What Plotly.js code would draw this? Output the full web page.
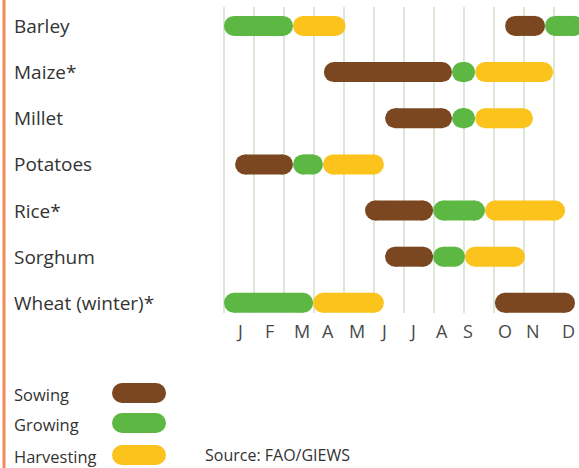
<!DOCTYPE html>
<html>
<head>
<meta charset="utf-8">
<script src="https://cdn.plot.ly/plotly-3.0.1.min.js"></script>
<style>
  html, body { margin: 0; padding: 0; background: #fff; }
  #chart { width: 579px; height: 468px; }
</style>
</head>
<body>
<div id="chart"></div>
<script>
// crops, top to bottom
const crops = ['Barley', 'Maize*', 'Millet', 'Potatoes', 'Rice*', 'Sorghum', 'Wheat (winter)*'];

// months (0 = start of January, 12 = end of December)
const monthLetters = ['J', 'F', 'M', 'A', 'M', 'J', 'J', 'A', 'S', 'O', 'N', 'D'];
const monthLabelAt = [0.53, 1.53, 2.6, 3.47, 4.43, 5.3, 6.27, 7.27, 8.13, 9.37, 10.3, 11.47];

// periods per phase: crop, start month, end month
const sowingCrop = ['Barley', 'Maize*', 'Millet', 'Potatoes', 'Rice*', 'Sorghum', 'Wheat (winter)*'];
const sowingStart = [9.37, 3.33, 5.37, 0.37, 4.7, 5.37, 9.03];
const sowingEnd = [10.7, 7.6, 7.6, 2.3, 6.97, 6.97, 11.7];

const growingCrop = ['Barley', 'Barley', 'Maize*', 'Millet', 'Potatoes', 'Rice*', 'Sorghum', 'Wheat (winter)*'];
const growingStart = [0, 10.7, 7.6, 7.6, 2.3, 6.97, 6.97, 0];
const growingEnd = [2.3, 12, 8.37, 8.37, 3.3, 8.7, 8.03, 2.97];

const harvestCrop = ['Barley', 'Maize*', 'Millet', 'Potatoes', 'Rice*', 'Sorghum', 'Wheat (winter)*'];
const harvestStart = [2.3, 8.37, 8.37, 3.3, 8.7, 8.03, 2.97];
const harvestEnd = [4.05, 10.97, 10.3, 5.33, 11.37, 10.03, 5.33];

const phaseNames = ['Sowing', 'Growing', 'Harvesting'];
const phaseColors = ['#7b4720', '#5db843', '#fbc31b'];

const W = 579, H = 468;
const plotLeft = 200, plotTop = 7, plotBottom = 313;
const xRange = [-0.8, 11.833];
const pxPerMonth = (W - plotLeft) / (xRange[1] - xRange[0]);
const barPx = 20;
const capR = (barPx / 2) / pxPerMonth;

function phaseTrace(name, color, cropList, starts, ends) {
    var xs = [], ys = [];
    for (let i = 0; i < cropList.length; i++) {
        var row = crops.indexOf(cropList[i]);
        xs.push(starts[i] + capR, ends[i] - capR, null);
        ys.push(row, row, null);
    }
    return {
        type: 'scatter',
        mode: 'lines+markers',
        name: name,
        x: xs,
        y: ys,
        xaxis: 'x',
        yaxis: 'y',
        line: { color: color, width: barPx },
        marker: { color: color, size: barPx, line: { width: 0 } },
        hoverinfo: 'skip',
        showlegend: false
    };
}

var traces = [
    phaseTrace('Sowing', phaseColors[0], sowingCrop, sowingStart, sowingEnd),
    phaseTrace('Growing', phaseColors[1], growingCrop, growingStart, growingEnd),
    phaseTrace('Harvesting', phaseColors[2], harvestCrop, harvestStart, harvestEnd)
];

// legend swatches, drawn on a pixel axis over the whole figure
const legendY = [393, 423, 455];
for (let i = 0; i < phaseNames.length; i++) {
    traces.push({
        type: 'scatter',
        mode: 'lines+markers',
        x: [112 + barPx / 2, 166 - barPx / 2],
        y: [legendY[i], legendY[i]],
        xaxis: 'x2',
        yaxis: 'y2',
        line: { color: phaseColors[i], width: barPx },
        marker: { color: phaseColors[i], size: barPx, line: { width: 0 } },
        hoverinfo: 'skip',
        showlegend: false
    });
}

var annotations = [];
crops.forEach((c, i) => {
    annotations.push({
        text: c, xref: 'paper', yref: 'y', x: 12 / W, y: i,
        xanchor: 'left', yanchor: 'middle', showarrow: false,
        font: { family: 'Open Sans', size: 19, color: '#333333' }
    });
});
monthLetters.forEach((m, i) => {
    annotations.push({
        text: m, xref: 'x', yref: 'paper', x: monthLabelAt[i], y: 1 - 331 / H,
        xanchor: 'center', yanchor: 'middle', showarrow: false,
        font: { family: 'Open Sans', size: 18, color: '#4a4a4a' }
    });
});
phaseNames.forEach((p, i) => {
    annotations.push({
        text: p, xref: 'paper', yref: 'paper', x: 12 / W, y: 1 - (legendY[i] + 1) / H,
        xanchor: 'left', yanchor: 'middle', showarrow: false,
        font: { family: 'Open Sans', size: 16.5, color: '#333333' }
    });
});
annotations.push({
    text: 'Source: FAO/GIEWS', xref: 'paper', yref: 'paper', x: 203 / W, y: 1 - 455 / H,
    xanchor: 'left', yanchor: 'middle', showarrow: false,
    font: { family: 'Open Sans', size: 16, color: '#333333' }
});

var layout = {
    width: W,
    height: H,
    margin: { l: 0, r: 0, t: 0, b: 0, pad: 0 },
    paper_bgcolor: '#ffffff',
    plot_bgcolor: 'rgba(0,0,0,0)',
    showlegend: false,
    xaxis: {
        domain: [plotLeft / W, 1],
        range: xRange,
        tick0: 0,
        dtick: 1,
        showgrid: true,
        gridcolor: '#dde7d7',
        gridwidth: 2,
        zeroline: false,
        showline: false,
        showticklabels: false,
        ticks: ''
    },
    yaxis: {
        domain: [1 - plotBottom / H, 1 - plotTop / H],
        range: [6.22, -0.41],
        showgrid: false,
        zeroline: false,
        showline: false,
        showticklabels: false,
        ticks: ''
    },
    xaxis2: {
        domain: [0, 1], range: [0, W], visible: false, anchor: 'y2'
    },
    yaxis2: {
        domain: [0, 1], range: [H, 0], visible: false, anchor: 'x2'
    },
    shapes: [{
        type: 'line', xref: 'paper', yref: 'paper',
        x0: 4 / W, x1: 4 / W, y0: 0, y1: 1,
        line: { color: '#f28a5a', width: 3 }
    }],
    annotations: annotations
};

Plotly.newPlot('chart', traces, layout, { displayModeBar: false, staticPlot: true });
</script>
</body>
</html>
